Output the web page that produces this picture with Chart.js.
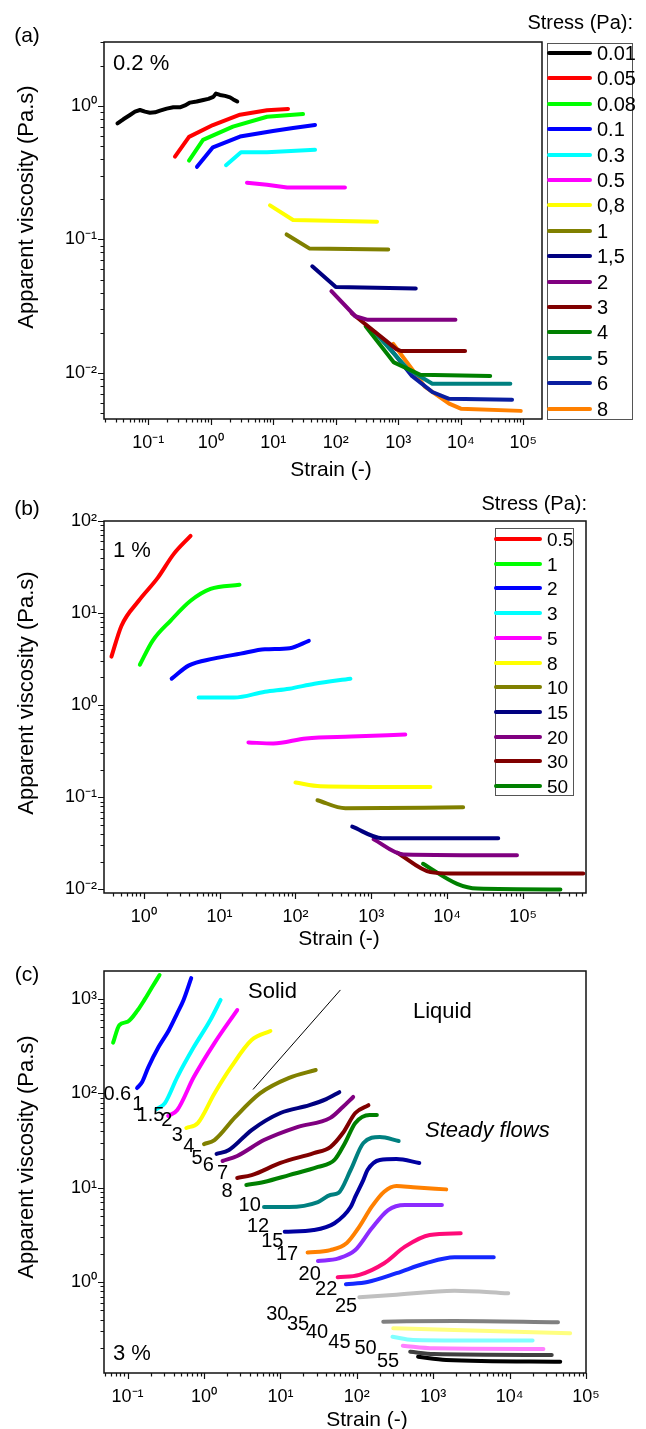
<!DOCTYPE html>
<html><head><meta charset="utf-8">
<script src="https://cdn.jsdelivr.net/npm/chart.js@4/dist/chart.umd.min.js"></script>
<style>
html,body{margin:0;padding:0;background:#fff;}
body{width:646px;height:1429px;position:relative;overflow:hidden;font-family:"Liberation Sans",Arial,Helvetica,sans-serif;color:#000;}
canvas{position:absolute;left:0;}
.t{position:absolute;white-space:nowrap;line-height:1;}
.c{transform:translate(-50%,-50%);}
.r{transform:translate(-100%,-50%);}
.l{transform:translate(0,-50%);}
.v{transform:translate(-50%,-50%) rotate(-90deg);}
.box{position:absolute;border:1.5px solid #555;box-sizing:border-box;}
.ln{position:absolute;height:4px;border-radius:2px;}
</style></head><body>
<canvas id="ca" width="646" height="470" style="top:0px"></canvas>
<canvas id="cb" width="646" height="480" style="top:470px"></canvas>
<canvas id="cc" width="646" height="479" style="top:950px"></canvas>
<script>
// ---------------- DATA: panel (a) 0.2 % ----------------
const stressA = ['0.01','0.05','0.08','0.1','0.3','0.5','0,8','1','1,5','2','3','4','5','6','8'];
const A_001 = [[0.0321,0.741],[0.0398,0.795],[0.0509,0.856],[0.0612,0.907],[0.0736,0.933],[0.0885,0.907],[0.106,0.891],[0.128,0.897],[0.154,0.923],[0.197,0.955],[0.251,0.977],[0.321,0.977],[0.386,1.01],[0.465,1.06],[0.594,1.08],[0.759,1.11],[0.912,1.13],[1.097,1.17],[1.21,1.24],[1.40,1.21],[1.69,1.19],[2.03,1.16],[2.29,1.12],[2.65,1.08]];
const A_005 = [[0.267,0.417],[0.448,0.587],[1.08,0.72],[2.93,0.86],[7.93,0.93],[17.2,0.95]];
const A_008 = [[0.448,0.39],[0.75,0.557],[2.26,0.70],[7.93,0.83],[29.9,0.87]];
const A_01  = [[0.601,0.35],[1.08,0.49],[2.93,0.59],[9.89,0.65],[20.7,0.685],[46.5,0.72]];
const A_03  = [[1.75,0.36],[3.04,0.45],[7.93,0.45],[46.5,0.47]];
const A_05  = [[3.79,0.266],[7.93,0.257],[16.6,0.245],[140,0.245]];
const A_08  = [[8.85,0.18],[20.7,0.14],[456,0.136]];
const A_1   = [[16.3,0.109],[37.6,0.0857],[690,0.084]];
const A_15  = [[42,0.063],[100,0.044],[1900,0.043]];
const A_2   = [[85,0.041],[205,0.0266],[325,0.025],[8200,0.025]];
const A_3   = [[180,0.028],[930,0.0151],[1100,0.0146],[11700,0.0146]];
const A_4   = [[300,0.0224],[850,0.012],[2250,0.0097],[29500,0.0095]];
const A_5   = [[415,0.0203],[1420,0.0107],[3500,0.0083],[62000,0.0083]];
const A_6   = [[560,0.018],[1650,0.0095],[3500,0.0072],[6500,0.0064],[66000,0.0063]];
const A_8   = [[830,0.0165],[1650,0.0107],[2650,0.0079],[6500,0.0059],[10000,0.0054],[91000,0.0052]];
const seriesA = [A_001,A_005,A_008,A_01,A_03,A_05,A_08,A_1,A_15,A_2,A_3,A_4,A_5,A_6,A_8];
const colorsA = ['#000000','#FF0000','#00FF00','#0000FF','#00FFFF','#FF00FF','#FFFF00','#808000','#000080','#800080','#800000','#008000','#008080','#0A1EA0','#FF8000'];

// ---------------- DATA: panel (b) 1 % ----------------
const stressB = ['0.5','1','2','3','5','8','10','15','20','30','50'];
const B_05 = [[0.376,3.37],[0.51,7.3],[0.86,13.6],[1.53,24.1],[2.48,43.7],[4.15,69]];
const B_1  = [[0.89,2.75],[1.31,5.0],[2.27,8.3],[4.15,13.6],[7.6,18.3],[18.3,20.3]];
const B_2  = [[2.34,1.94],[3.9,2.69],[8.3,3.2],[18.9,3.63],[39.6,4.05],[84,4.16],[150,5.0]];
const B_3  = [[5.3,1.21],[15.5,1.21],[39.6,1.40],[83,1.51],[178,1.71],[530,1.94]];
const B_5  = [[24,0.394],[51,0.384],[138,0.436],[545,0.457],[2800,0.48]];
const B_8  = [[100,0.145],[213,0.132],[6000,0.129]];
const B_10 = [[195,0.093],[455,0.076],[16200,0.078]];
const B_15 = [[560,0.048],[1390,0.036],[47000,0.036]];
const B_20 = [[1070,0.035],[2650,0.024],[83000,0.0235]];
const B_30 = [[2200,0.025],[6000,0.0154],[11000,0.0149],[620000,0.0149]];
const B_50 = [[4800,0.019],[13500,0.0115],[24700,0.0102],[310000,0.0100]];
const seriesB = [B_05,B_1,B_2,B_3,B_5,B_8,B_10,B_15,B_20,B_30,B_50];
const colorsB = ['#FF0000','#00FF00','#0000FF','#00FFFF','#FF00FF','#FFFF00','#808000','#000080','#800080','#800000','#008000'];

// ---------------- DATA: panel (c) 3 % ----------------
const stressC = ['0.6','1','1.5','2','3','4','5','6','7','8','10','12','15','17','20','22','25','30','35','40','45','50','55'];
const C_06 = [[0.0646,345],[0.078,531],[0.1,575],[0.136,766],[0.166,980],[0.206,1310],[0.262,1800]];
const C_1  = [[0.133,114],[0.155,132],[0.187,190],[0.254,310],[0.347,468],[0.447,710],[0.54,980],[0.68,1670]];
const C_15 = [[0.239,68],[0.308,79],[0.447,149],[0.735,310],[1.21,600],[1.65,980]];
const C_2  = [[0.34,57.6],[0.447,66.7],[0.735,149],[1.37,342],[2.72,766]];
const C_3  = [[0.587,43],[0.83,48.5],[1.37,100],[2.26,190],[4.2,368],[7.4,459]];
const C_4  = [[1.0,29],[1.37,32],[2.56,56],[5.4,100],[13,146],[29,177]];
const C_5  = [[1.46,22.8],[2.12,25.1],[4.2,40.9],[10,62],[24,75],[39.8,87],[59,103]];
const C_6  = [[1.75,19.2],[2.72,21.7],[6.1,32],[16.6,44],[45,55],[65.6,71.8],[89.6,91.6]];
const C_7  = [[2.72,12.7],[4.2,13.6],[10,18.3],[27.3,23.3],[45,27],[65.6,38],[95.6,62],[142,75]];
const C_8  = [[3.58,10.7],[6.1,11.5],[13,13.6],[31,16.6],[51,19.7],[70,29.8],[95.6,48.5],[147,59],[183,59]];
const C_10 = [[6.1,6.24],[13,6.24],[31,7.05],[45,8.37],[57.6,8.8],[83,15.4],[122,29.8],[200,34.5],[353,31.3]];
const C_12 = [[11.4,3.42],[27.3,3.56],[51,4.2],[83,6.24],[95.6,8.03],[122,12.1],[138,15.4],[200,19.7],[331,20.1],[658,18.3]];
const C_15b= [[22.7,2.05],[45,2.18],[74,2.59],[108,3.86],[157,6.29],[228,9.07],[331,10.4],[546,10.1],[1480,9.6]];
const C_17 = [[31,1.67],[57.6,1.78],[95.6,2.18],[157,3.71],[257,5.8],[427,6.56],[1300,6.56]];
const C_20 = [[56.2,1.12],[108,1.19],[228,1.58],[427,2.37],[900,3.15],[2290,3.28]];
const C_22 = [[72,0.946],[138,1.0],[331,1.24],[794,1.58],[1900,1.83],[6200,1.83]];
const C_25 = [[108,0.69],[293,0.728],[1900,0.81],[9600,0.76]];
const C_30 = [[222,0.38],[1900,0.386],[43000,0.374]];
const C_35 = [[300,0.323],[1900,0.31],[62000,0.286]];
const C_40 = [[293,0.263],[546,0.243],[20000,0.239]];
const C_45 = [[400,0.211],[1020,0.198],[27700,0.195]];
const C_50 = [[500,0.182],[1020,0.172],[35600,0.168]];
const C_55 = [[634,0.161],[1480,0.149],[46000,0.143]];
const seriesC = [C_06,C_1,C_15,C_2,C_3,C_4,C_5,C_6,C_7,C_8,C_10,C_12,C_15b,C_17,C_20,C_22,C_25,C_30,C_35,C_40,C_45,C_50,C_55];
const colorsC = ['#00FF00','#0000FF','#00FFFF','#FF00FF','#FFFF00','#808000','#000080','#800080','#800000','#008000','#008080','#0000A0','#FF8000','#8C2BFF','#FF0A78','#1428FF','#C0C0C0','#808080','#FFFF80','#80FFFF','#FF80FF','#404040','#000000'];
// stress labels of panel (c), anchored in data coordinates (strain, viscosity)
const labelC_strain = [0.0733,0.136,0.199,0.327,0.447,0.634,0.813,1.14,1.75,2.0,3.96,5.1,7.85,12.2,24.2,39.8,72.4,9.1,17,30.2,59.3,130,257];
const labelC_visc   = [98,77,59,52,36.2,27.2,20.5,17.4,14.2,9.07,6.4,3.86,2.67,1.98,1.19,0.837,0.556,0.447,0.356,0.29,0.227,0.198,0.143];
// solid / liquid boundary guide line
const guideC = [[4.38,110],[61,1250]];

// ---------------- helpers ----------------
const FONT = '"Liberation Sans", Arial, Helvetica, sans-serif';
Chart.defaults.font.family = FONT;
Chart.defaults.color = '#000';
const SUP = {'-':'\u207B','0':'\u2070','1':'\u00B9','2':'\u00B2','3':'\u00B3','4':'\u2074','5':'\u2075','6':'\u2076','7':'\u2077','8':'\u2078','9':'\u2079'};
const sup = n => String(n).split('').map(c => SUP[c]).join('');
const isMajor = v => { const l = Math.log10(v); return Math.abs(l - Math.round(l)) < 1e-6; };
function logTicks(min, max) {
  const out = [];
  for (let e = Math.floor(Math.log10(min)); e <= Math.ceil(Math.log10(max)); e++) {
    for (let k = 1; k < 10; k++) {
      const v = k * Math.pow(10, e);
      if (v >= min * 0.9999 && v <= max * 1.0001) out.push({value: v});
    }
  }
  return out;
}
function axis(min, max, pad, fit) {
  return {
    type: 'logarithmic', min, max,
    afterBuildTicks: s => { s.ticks = logTicks(min, max); },
    afterFit: fit,
    ticks: { autoSkip: false, maxRotation: 0, minRotation: 0, padding: pad, color: '#000',
      font: { size: 18, family: FONT },
      callback: v => isMajor(v) ? '10' + sup(Math.round(Math.log10(v))) : '' },
    grid: { display: false, drawTicks: false },
    border: { display: false }
  };
}
const frame = {
  id: 'frame',
  afterDatasetsDraw(chart) {
    const {ctx, chartArea: a, scales} = chart;
    ctx.save();
    ctx.strokeStyle = '#111';
    ctx.lineWidth = 1.5;
    ctx.strokeRect(a.left, a.top, a.right - a.left, a.bottom - a.top);
    ctx.lineWidth = 1.2;
    ctx.beginPath();
    scales.x.ticks.forEach(t => {
      const p = Math.round(scales.x.getPixelForValue(t.value)) + 0.5;
      const L = isMajor(t.value) ? 6 : 3.5;
      ctx.moveTo(p, a.bottom); ctx.lineTo(p, a.bottom + L);
    });
    scales.y.ticks.forEach(t => {
      const p = Math.round(scales.y.getPixelForValue(t.value)) + 0.5;
      const L = isMajor(t.value) ? 6 : 3.5;
      ctx.moveTo(a.left, p); ctx.lineTo(a.left - L, p);
    });
    ctx.stroke();
    // stress labels (panel c)
    const lab = chart.options.plugins.frame && chart.options.plugins.frame.labels;
    if (lab) {
      ctx.fillStyle = '#000';
      ctx.font = '20px ' + FONT;
      ctx.textAlign = 'center';
      ctx.textBaseline = 'middle';
      lab.text.forEach((s, i) => {
        ctx.fillText(s, scales.x.getPixelForValue(lab.x[i]), scales.y.getPixelForValue(lab.y[i]));
      });
    }
    ctx.restore();
  }
};
function ds(pts, color, label, extra) {
  return Object.assign({
    label, data: pts.map(p => ({x: p[0], y: p[1]})),
    borderColor: color, backgroundColor: color, borderWidth: 4, pointRadius: 0, pointHoverRadius: 0,
    fill: false, tension: 0, borderCapStyle: 'round', borderJoinStyle: 'round'
  }, extra || {});
}
function panel(id, cfg) {
  const cv = document.getElementById(id);
  const H = cv.height;
  const datasets = cfg.series.map((s, i) => ds(s, cfg.colors[i], cfg.labels[i], cfg.dsExtra));
  (cfg.more || []).forEach(d => datasets.push(d));
  return new Chart(cv, {
    type: 'line',
    data: { datasets },
    plugins: [frame],
    options: {
      responsive: false, animation: false, devicePixelRatio: 1, events: [],
      layout: { padding: { left: 0, top: cfg.top, right: 646 - cfg.right, bottom: 0 } },
      scales: {
        x: axis(cfg.xmin, cfg.xmax, 13, s => { s.height = H - cfg.bottom; }),
        y: axis(cfg.ymin, cfg.ymax, 7, s => { s.width = cfg.left; })
      },
      plugins: { legend: { display: false }, tooltip: { enabled: false }, frame: { labels: cfg.textLabels || null } }
    }
  });
}

panel('ca', { series: seriesA, colors: colorsA, labels: stressA,
  left: 104, right: 542, top: 42, bottom: 419,
  xmin: 0.01954, xmax: 1.99e5, ymin: 0.00452, ymax: 3.015 });
panel('cb', { series: seriesB, colors: colorsB, labels: stressB,
  left: 104, right: 586, top: 51, bottom: 893 - 470,
  xmin: 0.307, xmax: 6.74e5, ymin: 0.00914, ymax: 100,
  dsExtra: { cubicInterpolationMode: 'monotone' } });
panel('cc', { series: seriesC, colors: colorsC, labels: stressC,
  left: 104, right: 586, top: 21, bottom: 1373 - 950,
  xmin: 0.0491, xmax: 1e5, ymin: 0.1084, ymax: 1986,
  dsExtra: { cubicInterpolationMode: 'monotone' },
  more: [ds(guideC, '#000000', 'boundary', { borderWidth: 1, borderCapStyle: 'butt' })],
  textLabels: { text: stressC, x: labelC_strain, y: labelC_visc } });

// ---------------- HTML text & legends ----------------
function txt(s, x, y, cls, size, extra) {
  const d = document.createElement('div');
  d.className = 't ' + cls;
  d.textContent = s;
  d.style.left = x + 'px'; d.style.top = y + 'px'; d.style.fontSize = size + 'px';
  if (extra) Object.assign(d.style, extra);
  document.body.appendChild(d);
  return d;
}
function legend(labels, colors, box, lineX, lineW, textX, y0, dy, size) {
  const b = document.createElement('div');
  b.className = 'box';
  Object.assign(b.style, { left: box[0] + 'px', top: box[1] + 'px', width: box[2] + 'px', height: box[3] + 'px' });
  document.body.appendChild(b);
  labels.forEach((s, i) => {
    const y = y0 + dy * i;
    const l = document.createElement('div');
    l.className = 'ln';
    Object.assign(l.style, { left: lineX + 'px', top: (y - 2) + 'px', width: lineW + 'px', background: colors[i] });
    document.body.appendChild(l);
    txt(s, textX, y, 'l', size);
  });
}
legend(stressA, colorsA, [547, 43, 86, 377], 547, 45, 597, 53, 25.4, 20);
legend(stressB, colorsB, [495, 528, 79, 268], 494, 48, 547, 539, 24.7, 19);

txt('(a)', 27, 34, 'c', 21);
txt('(b)', 27, 507, 'c', 21);
txt('(c)', 27, 973, 'c', 21);
txt('Stress (Pa):', 633, 22, 'r', 20);
txt('Stress (Pa):', 587, 503, 'r', 20);
txt('0.2 %', 113, 63, 'l', 22);
txt('1 %', 113, 550, 'l', 22);
txt('3 %', 113, 1353, 'l', 22);
txt('Solid', 248, 991, 'l', 22);
txt('Liquid', 413, 1011, 'l', 22);
txt('Steady flows', 425, 1130, 'l', 22, { fontStyle: 'italic' });
txt('Apparent viscosity (Pa.s)', 26, 207, 'v', 22);
txt('Apparent viscosity (Pa.s)', 26, 693, 'v', 22);
txt('Apparent viscosity (Pa.s)', 26, 1157, 'v', 22);
txt('Strain (-)', 331, 468, 'c', 21);
txt('Strain (-)', 339, 937, 'c', 21);
txt('Strain (-)', 367, 1418, 'c', 21);
</script>
</body></html>
